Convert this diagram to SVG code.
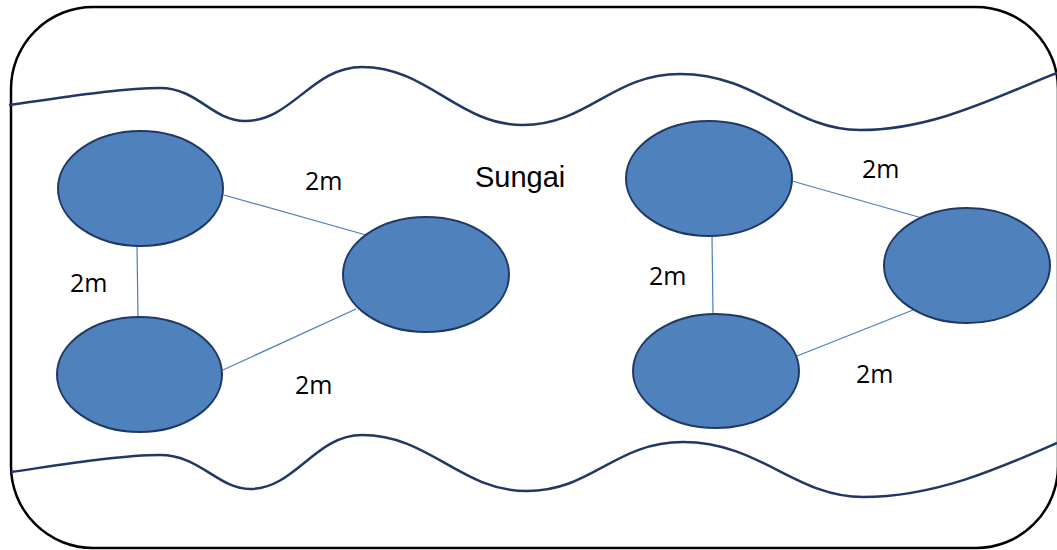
<svg xmlns="http://www.w3.org/2000/svg" width="1057" height="550" viewBox="0 0 1057 550">
  <style>
    .frame { fill: #ffffff; stroke: #000000; stroke-width: 2.5; }
    .bank { fill: none; stroke: #203864; stroke-width: 2.5; }
    .node { fill: #4F81BD; stroke: #203864; stroke-width: 2; }
    .link { fill: none; stroke: #4A7EBB; stroke-width: 1.2; }
    .lbl { font-family: "Open Sans", "Liberation Sans", sans-serif; font-size: 25px; fill: #000000; }
    .title { font-family: "Liberation Sans", Arial, sans-serif; font-size: 29px; fill: #000000; }
  </style>
  <rect x="0" y="0" width="1057" height="550" fill="#ffffff"/>
  <rect id="frame" class="frame" x="11" y="7" width="1047" height="541" rx="82" ry="82"/>
  <g id="banks">
    <path class="bank" d="M9,105 C60,98 120,88 160,88 C198,88 212,121 245,121 C292,121 312,67 362,67 C428,67 458,125 523,125 C588,125 612,74 680,74 C758,74 792,130 860,130 C935,130 1000,95 1057,73"/>
    <path class="bank" d="M11,472 C60,465 120,455 160,455 C200,455 218,489 250,489 C295,489 315,435 362,435 C430,435 460,491 527,491 C592,491 615,442 683,442 C760,442 795,497 863,497 C935,497 1000,468 1057,443"/>
  </g>
  <g id="connectors">
    <line class="link" x1="224" y1="195" x2="366" y2="235"/>
    <line class="link" x1="137" y1="246" x2="138" y2="317"/>
    <line class="link" x1="223" y1="370" x2="356" y2="309"/>
    <line class="link" x1="792" y1="181" x2="922" y2="218"/>
    <line class="link" x1="712" y1="236" x2="713" y2="314"/>
    <line class="link" x1="797" y1="356" x2="913" y2="310"/>
  </g>
  <g id="node1"><ellipse class="node" cx="140.5" cy="188.5" rx="82.5" ry="57.5"/></g>
  <g id="node2"><ellipse class="node" cx="139.5" cy="374.5" rx="82.5" ry="57.5"/></g>
  <g id="node3"><ellipse class="node" cx="426" cy="274.5" rx="83" ry="57.5"/></g>
  <g id="node4"><ellipse class="node" cx="709" cy="178.5" rx="83" ry="57.5"/></g>
  <g id="node5"><ellipse class="node" cx="716" cy="371" rx="83" ry="57"/></g>
  <g id="node6"><ellipse class="node" cx="967" cy="265.5" rx="83" ry="57.5"/></g>
  <g id="labels">
    <text class="lbl" x="305" y="190">2m</text>
    <text class="lbl" x="70" y="292">2m</text>
    <text class="lbl" x="295" y="394">2m</text>
    <text class="lbl" x="862" y="178">2m</text>
    <text class="lbl" x="649" y="285">2m</text>
    <text class="lbl" x="856" y="383">2m</text>
    <text class="title" x="475" y="187">Sungai</text>
  </g>
</svg>
